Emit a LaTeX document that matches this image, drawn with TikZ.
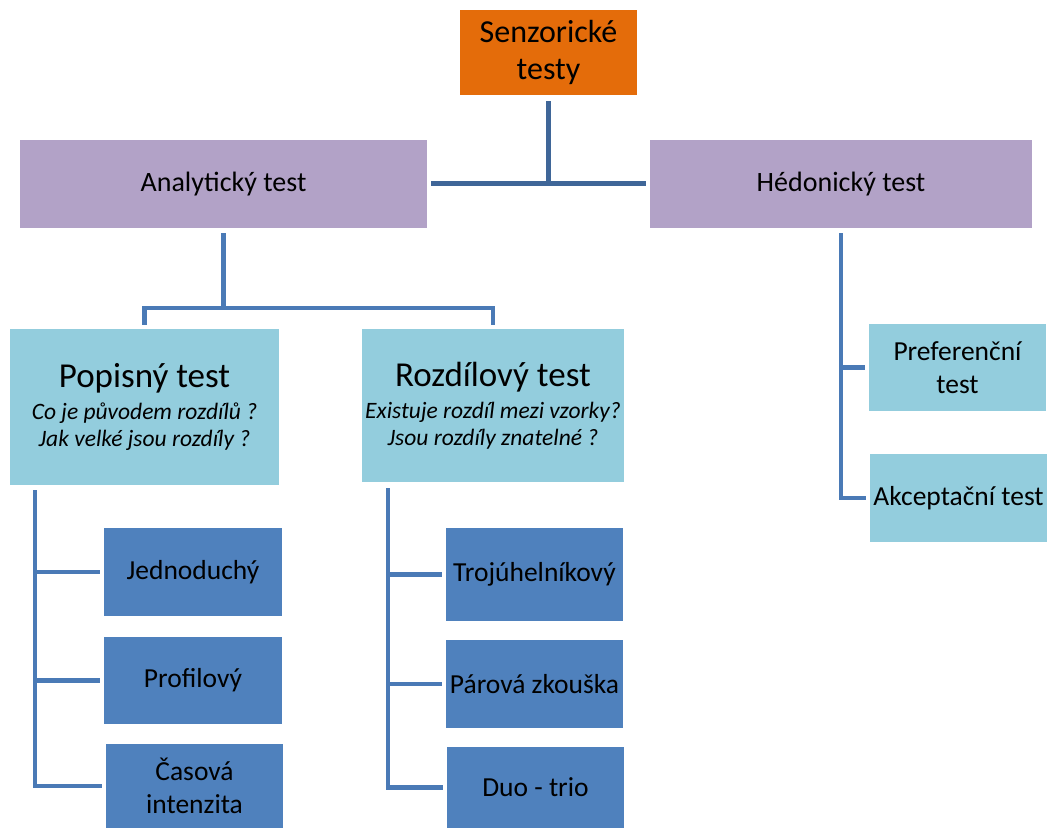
\documentclass[tikz,border=0pt]{standalone}
\usepackage{fontspec}
\setmainfont{Carlito}
\definecolor{orangebox}{HTML}{E46C0A}
\definecolor{purplebox}{HTML}{B2A2C7}
\definecolor{lightbox}{HTML}{93CDDD}
\definecolor{bluebox}{HTML}{4F81BD}
\definecolor{linetop}{HTML}{3F6698}
\definecolor{linecol}{HTML}{4A7AB6}
\begin{document}
\begin{tikzpicture}[x=1pt,y=-1pt,
  box/.style={rectangle, inner sep=0pt, align=center, text=black},
  conn/.style={draw=linecol, line width=4.5pt},
  conntop/.style={draw=linetop, line width=5pt},
  txt/.style={font=\fontsize{27.5}{33}\selectfont},
  qtxt/.style={font=\fontsize{23.5}{27}\selectfont\itshape},
  ttl/.style={}]
\useasboundingbox (0,0) rectangle (1053,829);
% level 0
\node[box, fill=orangebox, minimum width=177pt, minimum height=85pt, font=\fontsize{32}{37}\selectfont] (senz) at (548.5,52.5) {Senzorické\\testy};
% level 1
\node[box, fill=purplebox, minimum width=407pt, minimum height=88pt, font=\fontsize{28}{33}\selectfont] (ana) at (223.5,184) {Analytický test};
\node[box, fill=purplebox, minimum width=382pt, minimum height=88pt, font=\fontsize{28}{33}\selectfont] (hed) at (841,184) {Hédonický test};
% level 2
\node[box, qtxt, fill=lightbox, minimum width=269pt, minimum height=156pt] (pop) at (144.5,407)
  {{\upshape\fontsize{35}{40}\selectfont Popisný test}\\[5pt]
   Co je původem rozdílů ?\\
   Jak velké jsou rozdíly ?};
\node[box, qtxt, fill=lightbox, minimum width=262pt, minimum height=153pt] (roz) at (493,405.5)
  {{\upshape\fontsize{35}{40}\selectfont Rozdílový test}\\[5pt]
   Existuje rozdíl mezi vzorky?\\
   Jsou rozdíly znatelné ?};
\node[box, txt, fill=lightbox, minimum width=177pt, minimum height=87pt] (pref) at (957.5,367.5) {Preferenční\\test};
\node[box, txt, fill=lightbox, minimum width=177pt, minimum height=88pt] (akc) at (958.5,498) {Akceptační test};
% level 3
\node[box, txt, fill=bluebox, minimum width=178pt, minimum height=88pt] (jed) at (193,572) {Jednoduchý};
\node[box, txt, fill=bluebox, minimum width=178pt, minimum height=87pt] (pro) at (193,680.5) {Profilový};
\node[box, txt, fill=bluebox, minimum width=177pt, minimum height=84pt] (cas) at (194.5,786) {Časová\\intenzita};
\node[box, txt, fill=bluebox, minimum width=177pt, minimum height=93pt] (troj) at (534.5,574.5) {Trojúhelníkový};
\node[box, txt, fill=bluebox, minimum width=177pt, minimum height=88pt] (par) at (534.5,684) {Párová zkouška};
\node[box, txt, fill=bluebox, minimum width=177pt, minimum height=81pt] (duo) at (535.5,787.5) {Duo - trio};
% connectors top
\draw[conntop, shorten <=6pt] (senz.south) -- (senz.south |- ana.east);
\draw[conntop, shorten <=4pt, shorten >=4pt] (ana.east) -- (hed.west);
% analytic
\coordinate (aj) at (223.5,308);
\draw[conn, shorten <=5pt] (ana.south) -- (aj);
\draw[conn, shorten <=4pt, shorten >=4pt] (pop.north) |- (aj) -| (roz.north);
% popisny
\coordinate (pv) at (35,490);
\draw[conn, shorten >=4pt] (pv) |- (cas.west);
\draw[conn, shorten >=4pt] (pv |- jed.west) -- (jed.west);
\draw[conn, shorten >=4pt] (pv |- pro.west) -- (pro.west);
% rozdilovy
\coordinate (rv) at (388,488);
\draw[conn, shorten >=4pt] (rv) |- (duo.west);
\draw[conn, shorten >=4pt] (rv |- troj.west) -- (troj.west);
\draw[conn, shorten >=4pt] (rv |- par.west) -- (par.west);
% hedonic
\draw[conn, shorten <=5pt, shorten >=4pt] (hed.south) |- (akc.west);
\draw[conn, shorten >=4pt] (hed.south |- pref.west) -- (pref.west);
\end{tikzpicture}
\end{document}
